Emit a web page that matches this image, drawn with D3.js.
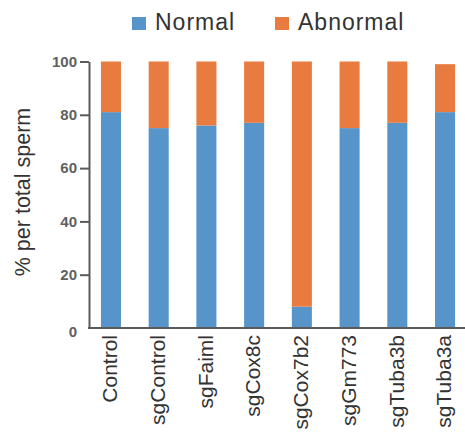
<!DOCTYPE html>
<html>
<head>
<meta charset="utf-8">
<script src="https://cdn.jsdelivr.net/npm/d3@7"></script>
<style>
  body { margin: 0; background: #fff; }
  svg { font-family: "Liberation Sans", Arial, sans-serif; }
  .axis path, .axis line { stroke: #5a5a5a; stroke-width: 2; }
  .y-axis text { fill: #606060; font-size: 15px; font-weight: bold; }
  .x-label { fill: #333; font-size: 21px; }
</style>
</head>
<body>
<div id="chart"></div>
<script>
// groups and percentages
const groups = ["Control", "sgControl", "sgFaiml", "sgCox8c", "sgCox7b2", "sgGm773", "sgTuba3b", "sgTuba3a"];
const normal = [81, 75, 76, 77, 8, 75, 77, 81];
const abnormal = [19, 25, 24, 23, 92, 25, 23, 18];
const seriesNames = ["Normal", "Abnormal"];
const colors = ["#5694c9", "#e87b40"];
const yTicks = [0, 20, 40, 60, 80, 100];

const width = 465, height = 435;

const svg = d3.select("#chart").append("svg")
    .attr("width", width)
    .attr("height", height);

const x = d3.scaleBand()
    .domain(groups)
    .range([89, 467])
    .paddingInner(0.58)
    .paddingOuter(0.25);

const y = d3.scaleLinear()
    .domain([0, 100])
    .range([328, 61.5]);

// stack the two series
const rows = groups.map((g, i) => ({ group: g, Normal: normal[i], Abnormal: abnormal[i] }));
const stacked = d3.stack().keys(seriesNames)(rows);

svg.append("g")
    .selectAll("g")
    .data(stacked)
    .join("g")
    .attr("fill", (d, i) => colors[i])
    .selectAll("rect")
    .data(d => d)
    .join("rect")
    .attr("x", d => x(d.data.group))
    .attr("y", d => y(d[1]))
    .attr("width", x.bandwidth())
    .attr("height", d => y(d[0]) - y(d[1]));

// y axis
const yAxis = svg.append("g")
    .attr("class", "axis y-axis")
    .attr("transform", "translate(89,0)")
    .call(d3.axisLeft(y).tickValues(yTicks).tickSize(9).tickSizeOuter(0).tickPadding(3));

yAxis.selectAll(".tick")
    .filter(d => d === 0)
    .select("line").remove();
yAxis.selectAll(".tick")
    .filter(d => d === 0)
    .select("text").attr("dy", "0.55em");

// x axis line
svg.append("g")
    .attr("class", "axis x-axis")
    .attr("transform", "translate(0,328)")
    .call(d3.axisBottom(x).tickSize(0).tickFormat(""))
    .select(".domain")
    .attr("d", "M88,0H465");

svg.append("g")
    .selectAll("text")
    .data(groups)
    .join("text")
    .attr("class", "x-label")
    .attr("text-anchor", "end")
    .attr("transform", d => `translate(${x(d) + x.bandwidth() / 2},335) rotate(-90)`)
    .attr("dy", "0.3em")
    .text(d => d);

// y title
svg.append("text")
    .attr("transform", "translate(30,192) rotate(-90)")
    .attr("text-anchor", "middle")
    .attr("fill", "#333")
    .style("font-size", "21.5px")
    .text("% per total sperm");

// legend
const legendX = [132, 275];
const legend = svg.append("g")
    .selectAll("g")
    .data(seriesNames)
    .join("g")
    .attr("transform", (d, i) => `translate(${legendX[i]},17)`);

legend.append("rect")
    .attr("width", 14)
    .attr("height", 13)
    .attr("fill", (d, i) => colors[i]);

legend.append("text")
    .attr("x", 23)
    .attr("y", 13)
    .attr("fill", "#333")
    .style("font-size", "23px")
    .style("letter-spacing", "1px")
    .text(d => d);
</script>
</body>
</html>
